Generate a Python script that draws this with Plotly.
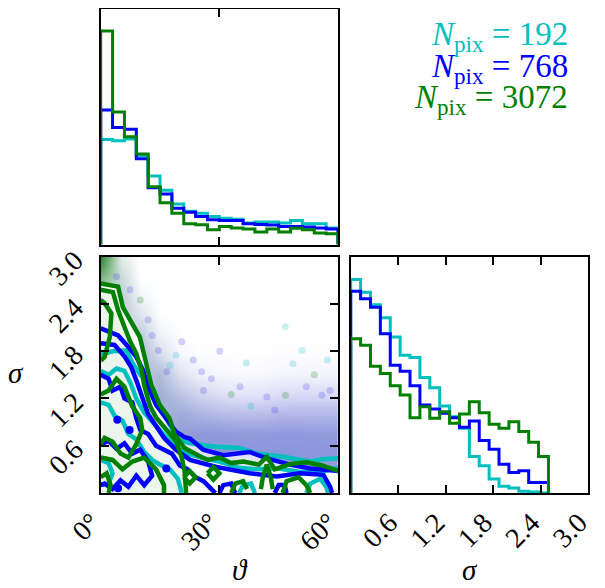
import plotly.graph_objects as go

# ---------------- data ----------------
THETA_EDGES = [0, 3, 6, 9, 12, 15, 18, 21, 24, 27, 30, 33, 36, 39, 42, 45, 48, 51, 54, 57, 60]
SIGMA_EDGES = [0, 0.125, 0.25, 0.375, 0.5, 0.625, 0.75, 0.875, 1.0, 1.125, 1.25, 1.375, 1.5,
               1.625, 1.75, 1.875, 2.0, 2.125, 2.25, 2.375, 2.5]

theta_hist_c = [31.9, 31.5, 32.0, 27.0, 20.8, 16.5, 12.3, 10.1, 9.5, 8.5, 8.0, 7.7, 6.5, 6.8, 6.8, 6.5, 7.3, 6.3, 6.3, 5.0]
theta_hist_b = [40.8, 35.5, 35.0, 26.0, 17.2, 15.3, 11.0, 9.8, 8.5, 7.5, 7.3, 7.3, 6.3, 6.1, 5.9, 5.5, 5.5, 5.3, 5.0, 4.7]
theta_hist_g = [64.8, 40.2, 32.7, 27.5, 17.5, 12.7, 9.5, 6.3, 6.0, 4.5, 5.5, 5.0, 4.7, 3.8, 4.7, 3.8, 4.9, 4.5, 3.5, 3.3]

sigma_hist_c = [64.3, 60.5, 56.7, 52.8, 47.0, 41.5, 40.8, 34.8, 31.7, 26.2, 23.0, 19.5, 11.0, 8.2, 4.2, 2.0, 1.5, 0.5, 0.3, 0.0]
sigma_hist_b = [60.8, 58.5, 56.0, 48.0, 38.5, 36.7, 32.3, 26.5, 25.3, 24.0, 22.7, 19.8, 21.7, 15.8, 13.2, 8.7, 6.2, 6.7, 3.2, 3.2]
sigma_hist_g = [46.5, 44.5, 38.2, 36.0, 32.3, 29.5, 22.7, 26.0, 22.5, 24.5, 21.0, 23.8, 27.5, 24.2, 20.7, 19.5, 21.5, 18.5, 15.3, 11.0]

labels = ["<i>N</i><sub>pix</sub> = 192", "<i>N</i><sub>pix</sub> = 768", "<i>N</i><sub>pix</sub> = 3072"]

theta_ticks = [0, 30, 60]
theta_ticktext = ["0°", "30°", "60°"]
sigma_ticks = [0.6, 1.2, 1.8, 2.4, 3.0]
sigma_ticktext = ["0.6", "1.2", "1.8", "2.4", "3.0"]

# haze of scattered samples (relative density)
haze_theta = [0, 5, 10, 15, 20, 25, 30, 35, 40, 45, 50, 55, 60]
haze_sigma = [0, 0.25, 0.5, 0.75, 1.0, 1.25, 1.5, 1.75, 2.0, 2.25, 2.5, 2.75, 3.0]
haze_blue = [
    [0, 0, 0, 0.10, 0.45, 0.60, 0.65, 0.65, 0.65, 0.65, 0.65, 0.65, 0.65],
    [0, 0, 0, 0.10, 0.45, 0.60, 0.65, 0.65, 0.65, 0.65, 0.65, 0.65, 0.65],
    [0, 0, 0, 0.25, 0.55, 0.70, 0.75, 0.75, 0.75, 0.75, 0.75, 0.75, 0.75],
    [0, 0, 0, 0.35, 0.65, 0.72, 0.72, 0.70, 0.70, 0.72, 0.72, 0.70, 0.70],
    [0, 0, 0.10, 0.50, 0.58, 0.52, 0.48, 0.46, 0.46, 0.50, 0.50, 0.50, 0.50],
    [0, 0, 0.20, 0.52, 0.40, 0.28, 0.22, 0.20, 0.20, 0.24, 0.26, 0.26, 0.26],
    [0, 0.10, 0.35, 0.42, 0.20, 0.10, 0.06, 0.05, 0.05, 0.07, 0.08, 0.08, 0.08],
    [0, 0.20, 0.40, 0.22, 0.06, 0.02, 0.02, 0.01, 0.01, 0.02, 0.02, 0.02, 0.02],
    [0, 0.25, 0.32, 0.08, 0.02, 0, 0, 0, 0, 0, 0, 0, 0],
    [0, 0.30, 0.15, 0.02, 0, 0, 0, 0, 0, 0, 0, 0, 0],
    [0.05, 0.28, 0.05, 0, 0, 0, 0, 0, 0, 0, 0, 0, 0],
    [0.10, 0.15, 0, 0, 0, 0, 0, 0, 0, 0, 0, 0, 0],
    [0.10, 0.05, 0, 0, 0, 0, 0, 0, 0, 0, 0, 0, 0],
]
haze_green = [
    [0, 0, 0, 0, 0.04, 0.05, 0.05, 0.05, 0.05, 0.05, 0.05, 0.05, 0.05],
    [0, 0, 0, 0, 0.04, 0.05, 0.05, 0.05, 0.05, 0.05, 0.05, 0.05, 0.05],
    [0, 0, 0, 0.04, 0.06, 0.06, 0.05, 0.05, 0.05, 0.05, 0.05, 0.05, 0.05],
    [0, 0, 0, 0.06, 0.08, 0.06, 0.05, 0.04, 0.04, 0.04, 0.04, 0.04, 0.04],
    [0, 0, 0.03, 0.10, 0.08, 0.05, 0.03, 0.02, 0.02, 0.02, 0.02, 0.02, 0.02],
    [0, 0, 0.06, 0.12, 0.06, 0.03, 0.01, 0, 0, 0, 0, 0, 0],
    [0, 0, 0.12, 0.10, 0.03, 0, 0, 0, 0, 0, 0, 0, 0],
    [0, 0.05, 0.14, 0.05, 0, 0, 0, 0, 0, 0, 0, 0, 0],
    [0, 0.10, 0.10, 0.02, 0, 0, 0, 0, 0, 0, 0, 0, 0],
    [0, 0.12, 0.06, 0, 0, 0, 0, 0, 0, 0, 0, 0, 0],
    [0.15, 0.14, 0.02, 0, 0, 0, 0, 0, 0, 0, 0, 0, 0],
    [0.60, 0.15, 0, 0, 0, 0, 0, 0, 0, 0, 0, 0, 0],
    [1.00, 0.10, 0, 0, 0, 0, 0, 0, 0, 0, 0, 0, 0],
]

# sparse individual samples
dots_theta = [46.7, 50.9, 36.8, 48.6, 57.3, 30.1, 20.5, 55.9, 42.0, 46.7, 35.2, 25.5, 23.4, 16.7, 14.6,
              12.0, 7.4, 4.0, 17.5, 28.0, 33.0, 52.0, 58.0, 38.0, 44.0, 10.0, 13.0, 19.0, 26.0, 54.0]
dots_sigma = [2.11, 1.81, 1.65, 1.64, 1.69, 1.80, 1.92, 1.24, 1.22, 1.24, 1.35, 1.54, 1.69, 1.54, 1.81,
              2.20, 2.58, 2.75, 1.62, 1.45, 1.25, 1.35, 1.30, 1.10, 1.05, 2.45, 2.00, 1.75, 1.30, 1.50]
dots_kind = ["c", "c", "c", "c", "c", "b", "b", "b", "b", "g", "b", "b", "b", "b", "b",
             "b", "b", "b", "c", "b", "g", "b", "b", "c", "b", "g", "b", "c", "b", "g"]

# contour levels (theta, sigma)
cyan_contours = [
    [(0, 1.76), (3, 1.80), (6.5, 1.81), (8, 1.65), (10, 1.50), (12, 1.41), (13.5, 1.30), (15, 1.10), (16.5, 0.95),
     (18, 0.82), (19.6, 0.68), (22.6, 0.63), (28.4, 0.59), (35.2, 0.57), (39.4, 0.50), (46.2, 0.46), (52.9, 0.40),
     (56, 0.43), (60, 0.44)],
    [(0, 1.55), (2, 1.50), (4, 1.58), (6, 1.55), (7.5, 1.40), (9, 1.20), (11, 1.02), (13, 0.90), (16, 0.74),
     (19, 0.58), (22, 0.50), (26, 0.44), (30, 0.40), (35, 0.32), (40, 0.30), (45, 0.31), (50, 0.27), (55, 0.26),
     (60, 0.32)],
    [(0, 1.15), (2, 1.12), (3.5, 0.98), (5.5, 0.92), (7, 0.75), (9, 0.68), (11, 0.52), (13, 0.42), (15, 0.36),
     (17.5, 0.30), (19.5, 0.18), (20.5, 0)],
    [(35, 0), (36, 0.10), (38, 0.12), (39, 0)],
    [(52, 0), (53, 0.12), (55.5, 0.18), (57, 0.08), (57.5, 0)],
    [(0, 0.42), (2, 0.38), (3, 0.25), (2, 0.12), (0, 0.10)],
]
blue_contours = [
    [(0, 2.09), (4.4, 2.00), (6.9, 1.86), (9, 1.73), (10.7, 1.56), (12, 1.35), (14, 1.12), (16, 0.98), (17.4, 0.88),
     (19, 0.78), (21.2, 0.71), (22.6, 0.69), (25.9, 0.55), (31, 0.48), (37.7, 0.52), (42, 0.44), (47.9, 0.36),
     (52.9, 0.31), (58, 0.29), (60, 0.28)],
    [(0, 1.90), (3.5, 1.88), (6.1, 1.73), (7.7, 1.60), (9, 1.43), (10, 1.30), (11, 1.15), (12, 1.00), (14, 0.85),
     (16, 0.70), (19, 0.55), (22.6, 0.42), (29.3, 0.33), (37.7, 0.25), (44.5, 0.21), (50.4, 0.25), (56.3, 0.23),
     (58, 0.08), (58.5, 0)],
    [(0, 1.50), (2, 1.45), (3, 1.30), (5, 1.35), (6, 1.20), (8, 1.15), (9, 0.95), (10, 0.80), (12, 0.75), (14, 0.60),
     (16, 0.55), (18, 0.50), (20, 0.35), (22, 0.30), (24, 0.20), (26, 0.15), (28, 0.05), (29, 0)],
    [(0, 0.62), (2, 0.66), (4, 0.56), (6, 0.63), (8, 0.50), (10, 0.55), (12, 0.40), (13, 0.22), (11, 0.10),
     (9, 0.22), (7, 0.08), (5, 0.16), (3, 0.05), (1, 0.12), (0, 0.10)],
    [(30, 0), (31, 0.10), (33, 0.12), (34, 0)],
    [(44, 0), (45, 0.10), (46.5, 0.10), (47, 0)],
]
blue_spots_theta = [4.2, 7.3, 16.6, 4.4]
blue_spots_sigma = [0.93, 0.80, 0.31, 0.06]
green_contours = [
    [(0, 2.66), (4.4, 2.62), (5.6, 2.36), (7.7, 2.16), (9.9, 1.98), (11.1, 1.73), (12.4, 1.43), (12.8, 1.37),
     (14.9, 1.12), (17.4, 0.95), (18.7, 0.74), (21.2, 0.57), (24.6, 0.48), (27, 0.42), (30, 0.45), (33, 0.38),
     (36, 0.40), (40, 0.36), (42, 0.46), (44, 0.30), (48, 0.37), (52, 0.39), (56, 0.35), (60, 0.28)],
    [(0, 2.58), (3.1, 2.55), (4.4, 2.32), (6.1, 2.11), (7.3, 1.94), (9, 1.77), (10.3, 1.56), (11.1, 1.35),
     (12.5, 1.10), (14, 0.96), (16.5, 0.80), (19, 0.66), (20.5, 0.45), (21.2, 0.28), (21.6, 0)],
    [(0, 2.45), (1, 2.41), (2.7, 2.28), (2.3, 1.98), (1, 1.73), (0, 1.68)],
    [(0, 1.25), (2, 1.30), (4, 1.45), (6, 1.35), (8, 1.10), (10, 0.95), (10.5, 0.80), (9, 0.62), (7, 0.45),
     (5, 0.50), (3, 0.65), (1, 0.70), (0, 0.62)],
    [(0, 0.45), (3, 0.42), (5.5, 0.30), (8, 0.40), (11, 0.45), (14, 0.30), (16, 0.10), (16, 0)],
    [(21, 0.20), (22.5, 0.28), (24, 0.20), (22.5, 0.12), (21, 0.20)],
    [(27, 0.25), (28.5, 0.33), (30, 0.25), (28.5, 0.17), (27, 0.25)],
    [(33, 0), (34, 0.12), (36, 0.15), (37, 0.05)],
    [(46, 0), (47, 0.15), (50, 0.20), (52, 0.10), (53, 0)],
    [(0, 0.20), (1.5, 0.25), (2.5, 0.10), (2, 0)],
    [(40.5, 0.05), (41, 0.20), (42, 0.36), (43, 0.20), (43.5, 0.05)],
]

# ---------------- styling ----------------
COL = {"c": "#00BFBF", "b": "#0000FF", "g": "#008000"}
DOT_COL = {"c": "rgba(0,191,191,0.22)", "b": "rgba(60,60,230,0.22)", "g": "rgba(0,128,0,0.22)"}
SERIF = "Liberation Serif"

fig = go.Figure()


def step_xy(edges, heights):
    xs = [edges[0]] + list(edges) + [edges[-1]]
    ys = [0] + list(heights) + [heights[-1], 0]
    return xs, ys


# top histogram (theta)
for h, k in [(theta_hist_c, "c"), (theta_hist_b, "b"), (theta_hist_g, "g")]:
    xs, ys = step_xy(THETA_EDGES, h)
    fig.add_trace(go.Scatter(x=xs, y=ys, mode="lines", line=dict(color=COL[k], width=3, shape="hv"),
                             xaxis="x", yaxis="y", showlegend=False, hoverinfo="skip"))

# right histogram (sigma)
for h, k in [(sigma_hist_c, "c"), (sigma_hist_b, "b"), (sigma_hist_g, "g")]:
    xs, ys = step_xy(SIGMA_EDGES, h)
    fig.add_trace(go.Scatter(x=xs, y=ys, mode="lines", line=dict(color=COL[k], width=3, shape="hv"),
                             xaxis="x3", yaxis="y3", showlegend=False, hoverinfo="skip"))

# 2-D panel: haze
fig.add_trace(go.Heatmap(x=haze_theta, y=haze_sigma, z=haze_blue, zmin=0, zmax=1, zsmooth="best",
                         colorscale=[[0, "rgb(255,255,255)"], [1, "rgb(110,115,220)"]], showscale=False,
                         xaxis="x2", yaxis="y2", hoverinfo="skip"))
fig.add_trace(go.Heatmap(x=haze_theta, y=haze_sigma, z=haze_green, zmin=0, zmax=1, zsmooth="best",
                         colorscale=[[0, "rgba(0,128,0,0)"], [1, "rgba(20,120,20,0.9)"]], showscale=False,
                         xaxis="x2", yaxis="y2", hoverinfo="skip"))

for k in ["c", "b", "g"]:
    idx = [i for i, kk in enumerate(dots_kind) if kk == k]
    fig.add_trace(go.Scatter(x=[dots_theta[i] for i in idx], y=[dots_sigma[i] for i in idx], mode="markers",
                             marker=dict(size=7, color=DOT_COL[k]), xaxis="x2", yaxis="y2",
                             showlegend=False, hoverinfo="skip"))


def region_below(curve):
    xs = [p[0] for p in curve] + [60, 0]
    ys = [p[1] for p in curve] + [0, 0]
    return xs, ys


# light fills under the outer contours
xs, ys = region_below(blue_contours[0])
fig.add_trace(go.Scatter(x=xs, y=ys, fill="toself", fillcolor="rgb(226,226,248)", mode="none",
                         xaxis="x2", yaxis="y2", showlegend=False, hoverinfo="skip"))
xs, ys = region_below(cyan_contours[1])
fig.add_trace(go.Scatter(x=xs, y=ys, fill="toself", fillcolor="rgb(250,252,250)", mode="none",
                         xaxis="x2", yaxis="y2", showlegend=False, hoverinfo="skip"))
xs, ys = region_below(green_contours[0][:13])
fig.add_trace(go.Scatter(x=xs[:-2] + [12.8, 0], y=ys[:-2] + [0, 0], fill="toself", fillcolor="rgb(248,251,248)",
                         mode="none", xaxis="x2", yaxis="y2", showlegend=False, hoverinfo="skip"))
xs, ys = region_below(green_contours[1])
fig.add_trace(go.Scatter(x=xs[:-2] + [0], y=ys[:-2] + [0], fill="toself", fillcolor="rgba(0,128,0,0.05)",
                         mode="none", xaxis="x2", yaxis="y2", showlegend=False, hoverinfo="skip"))


def contour_xy(curves):
    xs, ys = [], []
    for c in curves:
        xs += [p[0] for p in c] + [None]
        ys += [p[1] for p in c] + [None]
    return xs, ys


for curves, k in [(cyan_contours, "c"), (blue_contours, "b"), (green_contours, "g")]:
    xs, ys = contour_xy(curves)
    fig.add_trace(go.Scatter(x=xs, y=ys, mode="lines", line=dict(color=COL[k], width=4.5),
                             xaxis="x2", yaxis="y2", showlegend=False, hoverinfo="skip", connectgaps=False))
    if k == "b":
        fig.add_trace(go.Scatter(x=blue_spots_theta, y=blue_spots_sigma, mode="markers",
                                 marker=dict(size=8, color=COL["b"]), xaxis="x2", yaxis="y2",
                                 showlegend=False, hoverinfo="skip"))

# ---------------- layout ----------------
W, H = 605, 588
OFF = 8  # the page body adds an 8 px margin; positions below are screen targets minus it


def fx(px):
    return (px - OFF) / W


def fy(py):
    return min(1.0, max(0.0, 1 - (py - OFF) / H))


xl, xr = fx(100.7), fx(338)
xl2, xr2 = fx(350.7), fx(588)
yt_top, yt_bot = fy(9), fy(244.5)
yb_top, yb_bot = fy(256.7), fy(493)

axis_common = dict(showline=True, linecolor="black", linewidth=2, mirror="ticks", ticks="inside",
                   ticklen=8, tickwidth=2, tickcolor="black", showgrid=False, zeroline=False,
                   automargin=False, ticklabelstandoff=6,
                   tickfont=dict(family=SERIF, size=28, color="black"))
x_lab = {**axis_common, "ticklabelstandoff": 0, "ticklabelshift": -9}

fig.update_layout(
    width=W, height=H, margin=dict(l=0, r=0, t=0, b=0, autoexpand=False),
    paper_bgcolor="white", plot_bgcolor="white", showlegend=False,
    xaxis=dict(domain=[xl, xr], anchor="y", range=[0, 60], tickvals=theta_ticks, showticklabels=False,
               **axis_common),
    yaxis=dict(domain=[yt_bot, yt_top], anchor="x", range=[0, 71.5], **{**axis_common, "ticks": ""},
               showticklabels=False),
    xaxis2=dict(domain=[xl, xr], anchor="y2", range=[0, 60], tickvals=theta_ticks, ticktext=theta_ticktext,
                tickangle=-45, **x_lab),
    yaxis2=dict(domain=[yb_bot, yb_top], anchor="x2", range=[0, 3.0], tickvals=sigma_ticks,
                ticktext=sigma_ticktext, tickangle=-45, **{**axis_common, "ticklabelstandoff": 18}),
    xaxis3=dict(domain=[xl2, xr2], anchor="y3", range=[0, 3.0], tickvals=sigma_ticks, ticktext=sigma_ticktext,
                tickangle=-45, **x_lab),
    yaxis3=dict(domain=[yb_bot, yb_top], anchor="x3", range=[0, 71.2], **{**axis_common, "ticks": ""},
                showticklabels=False),
)

# axis titles
fig.add_annotation(x=fx(240), y=fy(570), xref="paper", yref="paper", text="<i>ϑ</i>", showarrow=False,
                   font=dict(family=SERIF, size=29, color="black"), xanchor="center", yanchor="middle")
fig.add_annotation(x=fx(470), y=fy(570), xref="paper", yref="paper", text="<i>σ</i>", showarrow=False,
                   font=dict(family=SERIF, size=29, color="black"), xanchor="center", yanchor="middle")
fig.add_annotation(x=fx(16), y=fy(373), xref="paper", yref="paper", text="<i>σ</i>", showarrow=False,
                   font=dict(family=SERIF, size=29, color="black"), xanchor="center", yanchor="middle")

# legend texts
for i, (lab, k) in enumerate(zip(labels, ["c", "b", "g"])):
    fig.add_annotation(x=fx(570), y=fy(36 + 32 * i), xref="paper", yref="paper", text=lab,
                       showarrow=False, xanchor="right", yanchor="middle",
                       font=dict(family=SERIF, size=33, color=COL[k]))

fig.write_html("out.html")
